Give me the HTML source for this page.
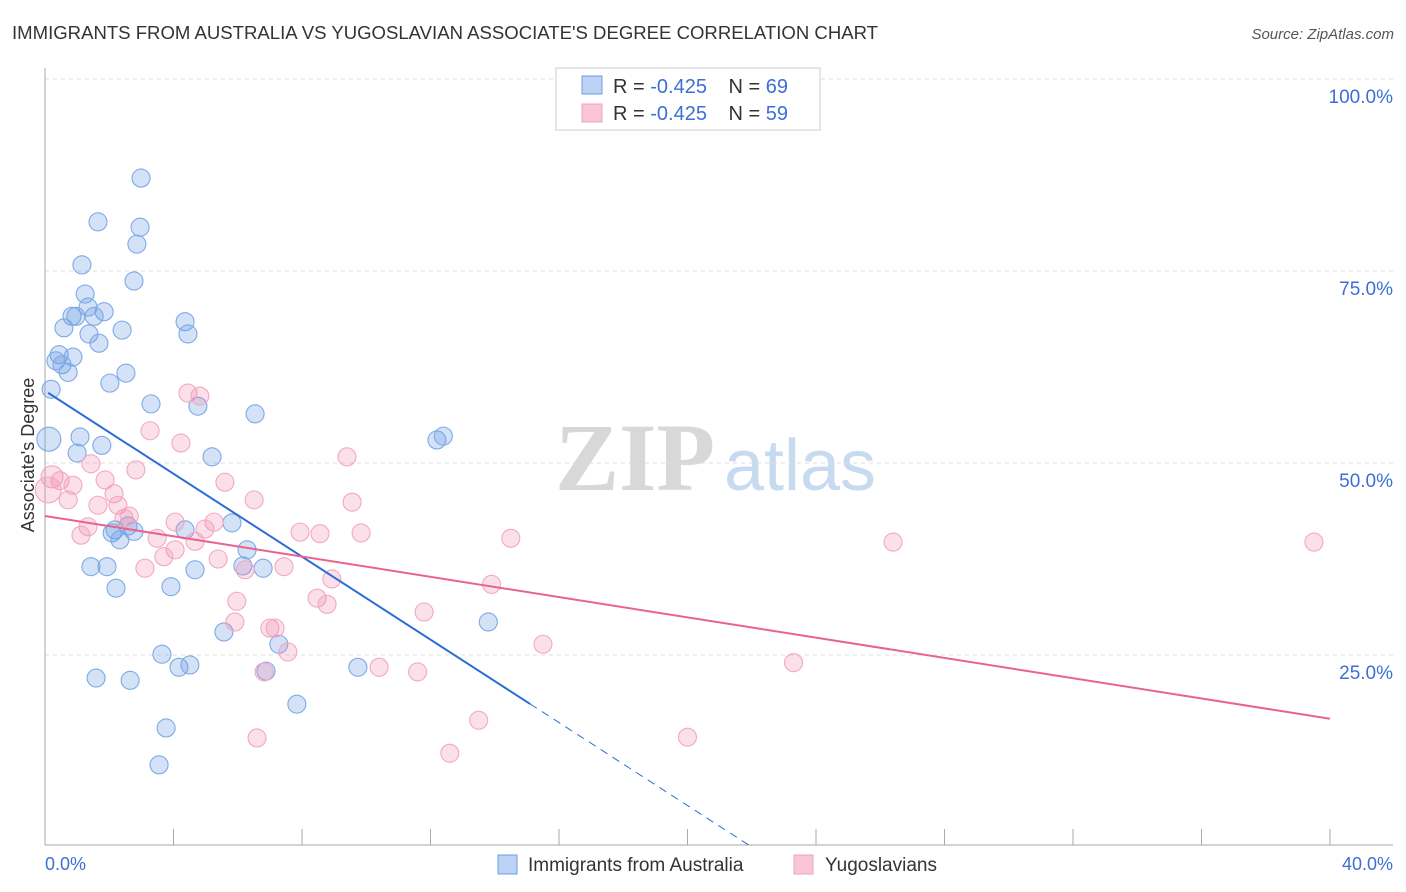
<!DOCTYPE html>
<html><head><meta charset="utf-8"><style>
body{margin:0;background:#fff;font-family:"Liberation Sans",sans-serif}
</style></head><body>
<svg id="c" width="1406" height="892" xmlns="http://www.w3.org/2000/svg" style="display:block">
<text x="12" y="39" font-size="18" fill="#333" textLength="866" lengthAdjust="spacingAndGlyphs">IMMIGRANTS FROM AUSTRALIA VS YUGOSLAVIAN ASSOCIATE'S DEGREE CORRELATION CHART</text>
<text x="1394" y="39" font-size="15" fill="#555" text-anchor="end" font-style="italic">Source: ZipAtlas.com</text>
<g>
<text x="635" y="490" font-size="96" fill="#d8d8d8" text-anchor="middle" font-family="Liberation Serif,serif" font-weight="bold">ZIP</text>
<text x="800" y="490" font-size="72" fill="#c8daf0" text-anchor="middle">atlas</text>
</g>
<g id="grid"></g><g id="axes"></g><g id="pts"></g><g id="lines"></g>
<g>
<rect x="556" y="68" width="264" height="62" fill="#fff" stroke="#ccc"/>
<rect x="582" y="76" width="20" height="18" fill="#bcd3f5" stroke="#6a9fe0"/>
<rect x="582" y="104" width="20" height="18" fill="#f9c6d6" stroke="#f0a0bc"/>
<text x="613" y="93" font-size="20" fill="#333">R = <tspan fill="#3d6fd6">-0.425</tspan>   <tspan dx="16">N = </tspan><tspan fill="#3d6fd6">69</tspan></text>
<text x="613" y="120" font-size="20" fill="#333">R = <tspan fill="#3d6fd6">-0.425</tspan>   <tspan dx="16">N = </tspan><tspan fill="#3d6fd6">59</tspan></text>
</g>
<text transform="translate(34,455) rotate(-90)" font-size="18" fill="#333" text-anchor="middle">Associate's Degree</text>
<g>
<rect x="498" y="855" width="19" height="19" fill="#bcd3f5" stroke="#6a9fe0"/>
<text x="528" y="871" font-size="19" fill="#333">Immigrants from Australia</text>
<rect x="794" y="855" width="19" height="19" fill="#f9c6d6" stroke="#f0a0bc"/>
<text x="825" y="871" font-size="19" fill="#333">Yugoslavians</text>
</g>
</svg>
<script>
const blueX=[2.99,1.65,2.96,2.86,1.15,2.77,1.25,1.34,0.84,1.84,0.96,1.53,0.59,1.37,2.40,4.36,4.45,1.68,0.44,0.34,0.87,0.53,0.72,2.52,2.02,0.19,3.30,4.76,6.54,12.2,12.4,0.12,1.09,1.77,1.00,5.20,5.82,2.18,2.58,2.09,2.77,2.33,4.36,6.29,1.43,1.93,4.67,6.16,6.79,2.21,3.92,5.57,13.8,7.28,3.64,4.17,4.51,9.74,6.88,1.59,2.65,7.84,3.77,3.55];
const blueY=[87.1,81.4,80.7,78.5,75.8,73.7,72.0,70.3,69.1,69.7,69.1,69.1,67.6,66.8,67.3,68.4,66.8,65.6,64.1,63.3,63.8,62.8,61.8,61.7,60.4,59.6,57.7,57.4,56.4,53.0,53.5,53.1,53.4,52.3,51.3,50.8,42.2,41.3,41.8,40.9,41.1,40.0,41.3,38.7,36.5,36.5,36.1,36.6,36.3,33.7,33.9,28.0,29.3,26.4,25.1,23.4,23.7,23.4,22.9,22.0,21.7,18.6,15.5,10.7];
const pinkX=[0.22,0.47,0.1,0.87,0.72,1.43,2.83,1.87,2.15,1.65,2.27,2.46,2.62,1.34,1.12,3.27,4.23,4.45,4.82,5.60,6.51,9.40,9.56,4.05,5.26,4.98,3.49,4.67,4.05,3.70,3.11,5.39,6.23,7.44,7.94,8.56,9.84,14.5,8.93,13.9,5.97,8.47,8.78,11.8,5.91,7.00,7.16,7.56,15.5,6.82,10.4,11.6,23.3,26.4,39.5,6.60,13.5,12.6,20.0];
const pinkY=[48.2,47.7,46.5,47.1,45.2,49.9,49.1,47.8,46.0,44.5,44.5,42.8,43.1,41.7,40.6,54.2,52.6,59.1,58.7,47.5,45.2,50.8,44.9,42.3,42.3,41.4,40.2,39.8,38.7,37.8,36.3,37.5,36.1,36.5,41.0,40.8,40.9,40.2,34.9,34.2,32.0,32.4,31.6,30.6,29.3,28.5,28.5,25.4,26.4,22.8,23.4,22.8,24.0,39.7,39.7,14.2,16.5,12.2,14.3];
const yTicks=[100,75,50,25];
const yTickLabels=["100.0%","75.0%","50.0%","25.0%"];
const xTicks=[0,4,8,12,16,20,24,28,32,36,40];
const blueFit=[59.4,-2.7];
const pinkFit=[43.1,-0.66];
const NS="http://www.w3.org/2000/svg";
const X=v=>45+v/40*1285, Y=v=>847-v/100*768;
function mk(t,a,p){const e=document.createElementNS(NS,t);for(const k in a)e.setAttribute(k,a[k]);p.appendChild(e);return e;}
const grid=document.getElementById('grid'),axes=document.getElementById('axes'),pts=document.getElementById('pts'),lines=document.getElementById('lines');
yTicks.forEach((t,i)=>{
 const l=mk('line',{x1:45,x2:1393,y1:Y(t),y2:Y(t),stroke:'#ddd','stroke-dasharray':'4,4'},grid);
 
 
 const tx=mk('text',{x:1393,y:Y(t)+24,'font-size':19,fill:'#3d6fd6','text-anchor':'end'},grid);
 tx.textContent=yTickLabels[i];
 
 
});
mk('line',{x1:45,x2:45,y1:68,y2:845,stroke:'#aaa'},axes);
mk('line',{x1:45,x2:1393,y1:845,y2:845,stroke:'#aaa'},axes);
xTicks.forEach(t=>{const k=mk('line',{x1:X(t),x2:X(t),y1:829,y2:845,stroke:'#aaa'},axes);
 
 });
const x0=mk('text',{x:45,y:870,'font-size':18,fill:'#3d6fd6'},axes);x0.textContent='0.0%';


const x1=mk('text',{x:1393,y:870,'font-size':18,fill:'#3d6fd6','text-anchor':'end'},axes);x1.textContent='40.0%';


blueX.forEach((v,i)=>{const c=mk('circle',{cx:X(v),cy:Y(blueY[i]),r:(i===31?12:9),fill:'rgba(110,160,230,0.3)',stroke:'#7eaae6','stroke-width':1.1},pts);
 
 });
pinkX.forEach((v,i)=>{const c=mk('circle',{cx:X(v),cy:Y(pinkY[i]),r:(i===2?13:(i===0?11:9)),fill:'rgba(240,130,170,0.25)',stroke:'#f2a8c2','stroke-width':1.1},pts);
 
 });
const bEnd=15.1, bZero=-blueFit[0]/blueFit[1];
const bl=mk('line',{x1:X(0.1),y1:Y(blueFit[0]+blueFit[1]*0.1),x2:X(bEnd),y2:Y(blueFit[0]+blueFit[1]*bEnd),stroke:'#2a6dd6','stroke-width':2},lines);


const bd=mk('line',{x1:X(bEnd),y1:Y(blueFit[0]+blueFit[1]*bEnd),x2:X(bZero),y2:Y(0),stroke:'#2a6dd6','stroke-width':1,'stroke-dasharray':'8,6'},lines);


const pl=mk('line',{x1:X(0),y1:Y(pinkFit[0]),x2:X(40),y2:Y(pinkFit[0]+pinkFit[1]*40),stroke:'#e8638f','stroke-width':2},lines);


</script>
</body></html>
